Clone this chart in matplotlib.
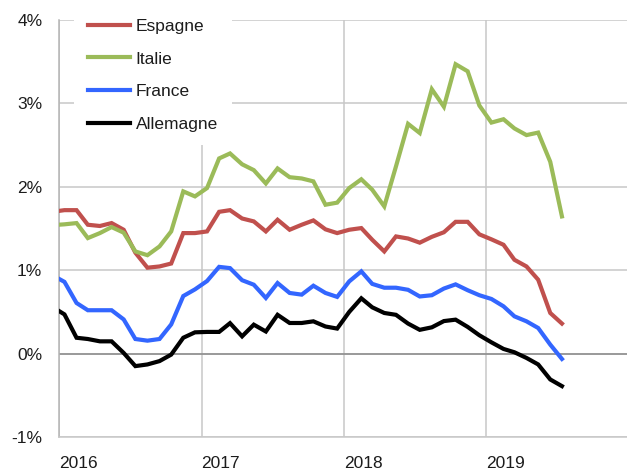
import matplotlib
matplotlib.use("Agg")
import matplotlib.pyplot as plt
import pandas as pd

# Monthly observations, Dec 2015 .. Jul 2019 (plotted mid-month)
months = pd.date_range("2015-12-01", periods=44, freq="MS") + pd.Timedelta(days=14)

espagne = [1.70, 1.72, 1.72, 1.545, 1.53, 1.565, 1.485, 1.21, 1.03, 1.045, 1.08,
           1.445, 1.445, 1.465, 1.70, 1.72, 1.62, 1.585, 1.465, 1.605, 1.485, 1.545,
           1.597, 1.49, 1.445, 1.485, 1.505, 1.365, 1.225, 1.405, 1.38, 1.33, 1.40,
           1.455, 1.58, 1.58, 1.43, 1.37, 1.305, 1.125, 1.045, 0.886, 0.487, 0.36]
italie = [1.54, 1.55, 1.565, 1.385, 1.445, 1.517, 1.45, 1.225, 1.18, 1.285, 1.465,
          1.945, 1.885, 1.985, 2.34, 2.40, 2.27, 2.20, 2.04, 2.22, 2.115, 2.10,
          2.065, 1.785, 1.81, 1.985, 2.09, 1.965, 1.765, 2.245, 2.755, 2.645, 3.17,
          2.96, 3.47, 3.385, 2.975, 2.77, 2.81, 2.70, 2.62, 2.65, 2.30, 1.645]
france = [0.94, 0.86, 0.607, 0.52, 0.52, 0.52, 0.41, 0.175, 0.155, 0.175, 0.35,
          0.69, 0.77, 0.87, 1.04, 1.025, 0.88, 0.826, 0.667, 0.846, 0.727, 0.707,
          0.814, 0.727, 0.68, 0.866, 0.986, 0.836, 0.79, 0.79, 0.765, 0.685, 0.70,
          0.78, 0.83, 0.76, 0.70, 0.655, 0.567, 0.447, 0.387, 0.307, 0.108, -0.064]
allemagne = [0.56, 0.47, 0.19, 0.175, 0.147, 0.147, 0.008, -0.15, -0.13, -0.09, -0.012,
             0.19, 0.255, 0.26, 0.26, 0.365, 0.207, 0.347, 0.265, 0.465, 0.367, 0.367,
             0.387, 0.325, 0.30, 0.50, 0.663, 0.555, 0.487, 0.465, 0.36, 0.285, 0.315,
             0.39, 0.407, 0.32, 0.22, 0.135, 0.056, 0.016, -0.052, -0.13, -0.31, -0.39]

series_names = ["Espagne", "Italie", "France", "Allemagne"]
series_colors = ["#C0504D", "#9BBB59", "#3366FF", "#000000"]
year_ticks = ["2016", "2017", "2018", "2019"]
y_ticks = [-1, 0, 1, 2, 3, 4]
y_labels = ["-1%", "0%", "1%", "2%", "3%", "4%"]

plt.rcParams["font.family"] = ["Liberation Sans", "DejaVu Sans"]
FS = 12.5
TXT = "#1c1c1c"

fig = plt.figure(figsize=(6.27, 4.73), dpi=100)
ax = fig.add_axes([59 / 627, 1 - 437 / 473, 1 - 59 / 627, (437 - 20) / 473])

for vals, name, col in zip([espagne, italie, france, allemagne], series_names, series_colors):
    ax.plot(months, vals, color=col, lw=3.0, label=name, solid_joinstyle="miter", zorder=3)

ax.set_ylim(-1, 4)
ax.set_xlim(pd.Timestamp("2016-01-01"), pd.Timestamp("2019-12-29"))

ax.set_yticks(y_ticks)
ax.set_yticklabels(y_labels)
xt = [pd.Timestamp(f"{y}-01-01") for y in year_ticks]
ax.set_xticks(xt)
ax.set_xticklabels(year_ticks)
for lab in ax.get_xticklabels():
    lab.set_horizontalalignment("left")

ax.tick_params(axis="both", length=0, labelsize=FS, colors=TXT)
ax.tick_params(axis="y", pad=12)
ax.tick_params(axis="x", pad=14)

ax.grid(True, color="#c8c8c8", lw=1.1, zorder=0)
ax.set_axisbelow(True)
ax.axhline(0, color="#8a8a8a", lw=1.1, zorder=1)

for s in ["top", "right"]:
    ax.spines[s].set_visible(False)
ax.spines["left"].set_color("#b4b4b4")
ax.spines["bottom"].set_color("#c8c8c8")
ax.spines["left"].set_linewidth(1.1)
ax.spines["bottom"].set_linewidth(1.1)

leg = ax.legend(loc="upper left", bbox_to_anchor=(74 / 627, 1 - 5 / 473), bbox_transform=fig.transFigure,
                frameon=True, fancybox=False, facecolor="white", edgecolor="none", framealpha=1,
                fontsize=FS, handlelength=2.4, handletextpad=0.35, labelspacing=1.0,
                borderpad=0.8, borderaxespad=0)
for t in leg.get_texts():
    t.set_color(TXT)

fig.savefig("out.png", dpi=100)
